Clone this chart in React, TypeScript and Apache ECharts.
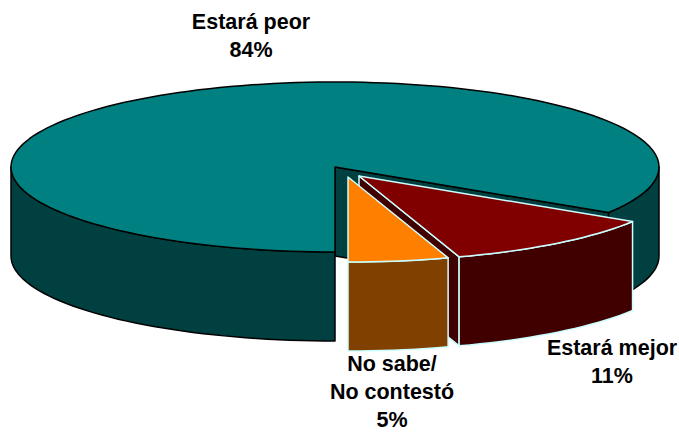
import React, { useEffect, useRef } from "react";
import * as echarts from "echarts";

const categories = ["Estará peor", "Estará mejor", "No sabe/\nNo contestó"];
const percentages = [84, 11, 5];
const topColors = ["#008080", "#800000", "#FF8000"];
const wallColors = ["#004040", "#400000", "#804000"];
const edgeColors = ["#000000", "#CCFFFF", "#CCFFFF"];

const CX = 335, CY = 167, RX = 324, RY = 85, DEPTH = 89;
const START = 90;
const explode = [[0, 0], [24, 9], [13, 10]];
const labelPos = [[251, 22], [612, 348], [392, 364]];
const LINE_STEP = 28;

const rad = (d: number) => (d * Math.PI) / 180;

function arcPoints(cx: number, cy: number, a0: number, a1: number) {
  const n = Math.max(2, Math.ceil(Math.abs(a1 - a0) / 2));
  const pts: number[][] = [];
  for (let i = 0; i <= n; i++) {
    const a = rad(a0 + ((a1 - a0) * i) / n);
    pts.push([cx + RX * Math.cos(a), cy + RY * Math.sin(a)]);
  }
  return pts;
}

function renderSlice(params: any, api: any) {
  const i = params.dataIndex;
  const value = api.value(1);
  let before = 0;
  for (let k = 0; k < i; k++) before += percentages[k];
  const total = percentages.reduce((s, v) => s + v, 0);
  const a0 = START + (before / total) * 360;
  const a1 = a0 + (value / total) * 360;
  const cx = CX + explode[i][0];
  const cy = CY + explode[i][1];
  const stroke = { stroke: edgeColors[i], lineWidth: 1.5, lineJoin: "round" };
  const children: any[] = [];

  const wall = (pts: number[][]) => {
    const lower = pts.map((p) => [p[0], p[1] + DEPTH]).reverse();
    children.push({
      type: "polygon",
      shape: { points: pts.concat(lower) },
      style: { fill: wallColors[i], ...stroke },
    });
  };
  const rim = (a: number) => [cx + RX * Math.cos(rad(a)), cy + RY * Math.sin(rad(a))];

  if (Math.cos(rad(a1)) > 0.001) wall([[cx, cy], rim(a1)]);
  if (Math.cos(rad(a0)) < -0.001) wall([[cx, cy], rim(a0)]);

  for (const shift of [0, 360]) {
    const lo = Math.max(a0, shift);
    const hi = Math.min(a1, shift + 180);
    if (hi > lo) wall(arcPoints(cx, cy, lo, hi));
  }

  children.push({
    type: "polygon",
    shape: { points: [[cx, cy], ...arcPoints(cx, cy, a0, a1)] },
    style: { fill: topColors[i], ...stroke },
  });

  const lines = (categories[api.value(0)] + "\n" + value + "%").split("\n");
  lines.forEach((line, k) => {
    children.push({
      type: "text",
      x: labelPos[i][0],
      y: labelPos[i][1] + k * LINE_STEP,
      style: {
        text: line,
        fill: "#000000",
        align: "center",
        verticalAlign: "middle",
        font: "bold 21.5px 'Liberation Sans', Arial, sans-serif",
        lineHeight: 20,
      },
    });
  });

  return { type: "group", children };
}

export default function App() {
  const ref = useRef<HTMLDivElement>(null);
  useEffect(() => {
    const chart = echarts.init(ref.current!, undefined, { renderer: "svg" });
    chart.setOption({
      animation: false,
      backgroundColor: "#ffffff",
      series: [
        {
          type: "custom",
          coordinateSystem: "none",
          silent: true,
          clip: false,
          data: percentages.map((v, i) => [i, v]),
          renderItem: renderSlice,
        },
      ],
    });
    return () => chart.dispose();
  }, []);
  return (
    <div
      ref={ref}
      style={{ position: "fixed", left: 0, top: 0, width: 679, height: 433 }}
    />
  );
}
